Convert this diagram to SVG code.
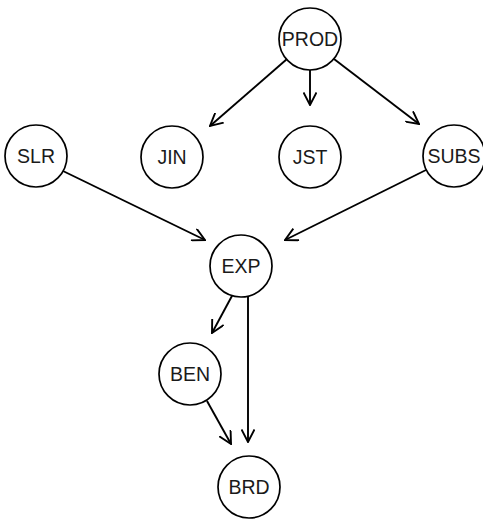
<svg xmlns="http://www.w3.org/2000/svg" width="483" height="521" viewBox="0 0 483 521">
  <style>
    .node circle { fill: #ffffff; stroke: #000000; stroke-width: 1.7; }
    .node text { font-family: "Liberation Sans", Arial, Helvetica, sans-serif; font-size: 19.5px; fill: #1a1a1a; text-anchor: middle; dominant-baseline: central; }
    .edges line { stroke: #000000; stroke-width: 1.9; fill: none; marker-end: url(#open-arrow); }
  </style>
  <defs>
    <marker id="open-arrow" viewBox="0 0 14 14" refX="13" refY="7" markerWidth="14" markerHeight="14" markerUnits="userSpaceOnUse" orient="auto">
      <path d="M0.5,0.5 L13,7 L0.5,13.5" fill="none" stroke="#000000" stroke-width="1.9" stroke-linejoin="miter"/>
    </marker>
  </defs>
  <rect width="483" height="521" fill="#ffffff"/>

  <!-- directed edges between the variables -->
  <g id="edges" class="edges">
    <line x1="287" y1="59" x2="210" y2="126"/>
    <line x1="310" y1="70" x2="310" y2="105"/>
    <line x1="334" y1="59" x2="419" y2="124"/>
    <line x1="63" y1="171" x2="205" y2="240"/>
    <line x1="426" y1="170" x2="285" y2="240"/>
    <line x1="233" y1="294" x2="212" y2="333"/>
    <line x1="248" y1="295" x2="248" y2="442"/>
    <line x1="207" y1="401" x2="231" y2="444"/>
  </g>

  <g id="PROD" class="node"><circle cx="310" cy="39" r="31"/><text x="310" y="39">PROD</text></g>
  <g id="SLR" class="node"><circle cx="36" cy="156" r="31"/><text x="36" y="156">SLR</text></g>
  <g id="JIN" class="node"><circle cx="172" cy="157" r="31"/><text x="172" y="157">JIN</text></g>
  <g id="JST" class="node"><circle cx="310" cy="157" r="31"/><text x="310" y="157">JST</text></g>
  <g id="SUBS" class="node"><circle cx="454" cy="156" r="31"/><text x="454" y="156">SUBS</text></g>
  <g id="EXP" class="node"><circle cx="241" cy="266" r="31"/><text x="241" y="266">EXP</text></g>
  <g id="BEN" class="node"><circle cx="190" cy="374" r="31"/><text x="190" y="374">BEN</text></g>
  <g id="BRD" class="node"><circle cx="249" cy="487" r="31"/><text x="249" y="487">BRD</text></g>
</svg>
